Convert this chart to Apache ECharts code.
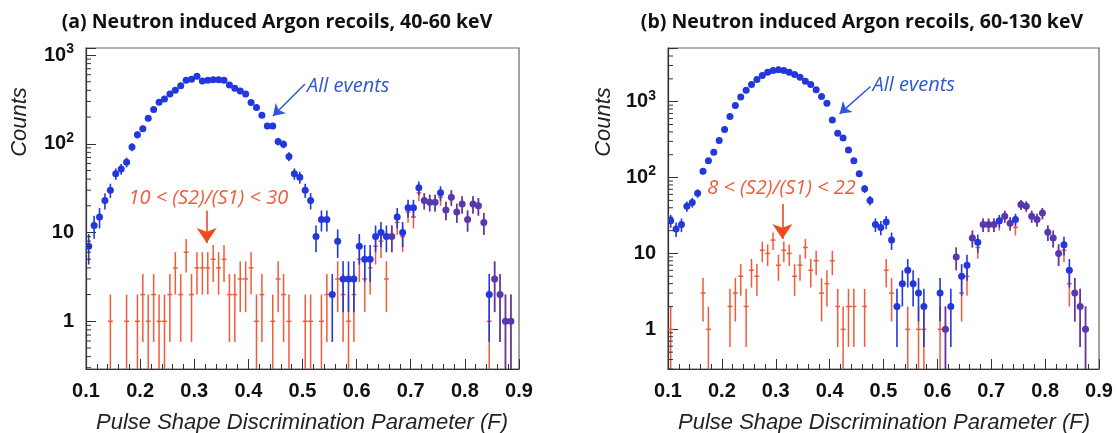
<!DOCTYPE html>
<html><head><meta charset="utf-8">
<script src="https://cdn.jsdelivr.net/npm/echarts@6/dist/echarts.min.js"></script>
<style>html,body{margin:0;padding:0;background:#fff}#c{width:1119px;height:433px}</style>
</head><body><div id="c"></div>
<script>
// Bin centres of the pulse-shape parameter F
const binF = [0.105,0.115,0.125,0.135,0.145,0.155,0.165,0.175,0.185,0.195,
  0.205,0.215,0.225,0.235,0.245,0.255,0.265,0.275,0.285,0.295,
  0.305,0.315,0.325,0.335,0.345,0.355,0.365,0.375,0.385,0.395,
  0.405,0.415,0.425,0.435,0.445,0.455,0.465,0.475,0.485,0.495,
  0.505,0.515,0.525,0.535,0.545,0.555,0.565,0.575,0.585,0.595,
  0.605,0.615,0.625,0.635,0.645,0.655,0.665,0.675,0.685,0.695,
  0.705,0.715,0.725,0.735,0.745,0.755,0.765,0.775,0.785,0.795,
  0.805,0.815,0.825,0.835,0.845,0.855,0.865,0.875,0.885];

// (a) 40-60 keV: all events
const leftAll = [7,12,15,23,30,46,52,62,92,126,
  148,194,243,294,320,363,400,452,520,533,
  578,510,520,527,527,520,460,422,394,363,
  292,256,210,159,159,106,99,72,46,42,
  30,23,9,14,14,2,8,3,3,3,
  7,5,5,9,10,9,9,15,10,19,
  19,32,23,22,22,28,18,25,17,21,
  14,21,20,13,2,3,2,1,1];
// (a) 40-60 keV: 10 < S2/S1 < 30
const leftCut = [0,0,0,0,1,0,0,1,0,1,
  2,1,2,1,1,2,4,2,6,2,
  4,4,4,5,4,5,2,2,3,3,
  4,1,2,0,1,3,2,1,0,0,
  1,1,0,1,2,0,3,2,1,2,
  5,3,4,7,8,3,9,13,9,17,
  15,28,23,22,22,25,18,25,17,21,
  14,21,20,13,1,3,2,1,1];
// (b) 60-130 keV: all events
const rightAll = [27,21,24,42,47,62,121,167,215,307,
  430,638,890,1150,1420,1690,1960,2220,2450,2570,
  2640,2570,2450,2290,2100,1865,1690,1435,1170,955,
  575,383,333,230,167,112,71,50,24,22,
  26,15,2,4,6,4,3,2,0,0,
  3,1,2,9,5,7,16,14,24,24,
  24,27,31,25,28,44,42,31,28,34,
  19,16,10,13,6,3,2,1,0];
// (b) 60-130 keV: 8 < S2/S1 < 22
const rightCut = [1,0,0,0,0,0,3,1,0,0,
  0,2,3,5,2,6,5,11,10,15,
  7,11,10,5,7,12,6,8,3,4,
  8,2,1,2,2,0,2,0,0,0,
  6,3,0,0,1,0,1,1,0,0,
  1,1,0,9,3,5,16,12,24,24,
  24,25,31,25,22,44,42,31,28,34,
  19,16,10,11,4,3,2,1,0];

const xRange = [0.1, 0.9];
const yRangeLeft = [0.29, 1200];
const yRangeRight = [0.3, 5100];
const titles = ['(a) Neutron induced Argon recoils, 40-60 keV', '(b) Neutron induced Argon recoils, 60-130 keV'];
const cutLabels = ['10 < (S2)/(S1) < 30', '8 < (S2)/(S1) < 22'];
const xTitle = 'Pulse Shape Discrimination Parameter (F)';
const yTitle = 'Counts';
const allLabel = 'All events';

const BLUE = '#2238dc', PURPLE = '#5838ae', RED = '#f25a38', REDA = '#f04a22', BLUET = '#2f57d8';

const chart = echarts.init(document.getElementById('c'), null, {renderer: 'canvas'});

function rowsAll(all, cut) {
  const r = [];
  binF.forEach((f, i) => { if (all[i] > 0) r.push([f, all[i], cut[i] === all[i] ? 1 : 0]); });
  return r;
}
function rowsCut(cut) {
  const r = [];
  binF.forEach((f, i) => { if (cut[i] > 0) r.push([f, cut[i]]); });
  return r;
}
function minorVals(range) {
  const v = [];
  for (let k = -2; k <= 4; k++) for (let m = 2; m <= 9; m++) {
    const y = m * Math.pow(10, k);
    if (y > range[0] && y < range[1]) v.push([xRange[0], y]);
  }
  return v;
}

function blueSeries(gi, all, cut, yr) {
  return {
    type: 'custom', xAxisIndex: gi, yAxisIndex: gi, clip: true, silent: true, z: 4,
    data: rowsAll(all, cut), encode: {x: 0, y: 1},
    renderItem: (params, api) => {
      const x = api.value(0), n = api.value(1), mix = api.value(2);
      const s = Math.sqrt(n);
      const c = api.coord([x, n]);
      const lo = api.coord([x, Math.max(n - s, yr[0])]);
      const hi = api.coord([x, n + s]);
      const col = mix ? PURPLE : BLUE;
      return {type: 'group', children: [
        {type: 'line', shape: {x1: c[0], y1: lo[1], x2: c[0], y2: hi[1]}, style: {stroke: col, lineWidth: 1.6}},
        {type: 'circle', shape: {cx: c[0], cy: c[1], r: 3.5}, style: {fill: col}}
      ]};
    }
  };
}
function redSeries(gi, cut, yr) {
  const hw = 0.0045;
  return {
    type: 'custom', xAxisIndex: gi, yAxisIndex: gi, clip: true, silent: true, z: 3,
    data: rowsCut(cut), encode: {x: 0, y: 1},
    renderItem: (params, api) => {
      const x = api.value(0), n = api.value(1);
      const s = Math.sqrt(n);
      const a = api.coord([x - hw, n]), b = api.coord([x + hw, n]);
      const c = api.coord([x, n]);
      const lo = api.coord([x, Math.max(n - s, yr[0])]);
      const hi = api.coord([x, n + s]);
      return {type: 'group', children: [
        {type: 'line', shape: {x1: c[0], y1: lo[1], x2: c[0], y2: hi[1]}, style: {stroke: RED, lineWidth: 1.5}},
        {type: 'line', shape: {x1: a[0], y1: a[1], x2: b[0], y2: b[1]}, style: {stroke: RED, lineWidth: 1.5}}
      ]};
    }
  };
}
function minorSeries(gi, yr) {
  return {
    type: 'custom', xAxisIndex: gi, yAxisIndex: gi, clip: false, silent: true, z: 5,
    data: minorVals(yr), encode: {x: 0, y: 1},
    renderItem: (params, api) => {
      const p = api.coord([api.value(0), api.value(1)]);
      return {type: 'line', shape: {x1: p[0], y1: p[1], x2: p[0] + 5, y2: p[1]}, style: {stroke: '#333', lineWidth: 1}};
    }
  };
}
function arrow(gi, from, to, color, size, width) {
  return {
    type: 'lines', coordinateSystem: 'cartesian2d', xAxisIndex: gi, yAxisIndex: gi, silent: true, z: 6,
    symbol: ['none', 'arrow'], symbolSize: [0, size],
    lineStyle: {color: color, width: width, opacity: 1},
    data: [{coords: [from, to]}]
  };
}

const tickFont = {fontFamily: 'Liberation Sans', fontWeight: 'bold', fontSize: 20, color: '#111'};
function xAx(gi) {
  return {
    type: 'value', gridIndex: gi, min: xRange[0], max: xRange[1], interval: 0.1,
    axisLine: {show: true, lineStyle: {color: '#333', width: 1.2}},
    axisTick: {show: true, inside: true, length: 10, lineStyle: {color: '#333', width: 1}},
    minorTick: {show: true, splitNumber: 5, length: 5, lineStyle: {color: '#333', width: 1}},
    splitLine: {show: false},
    axisLabel: Object.assign({margin: 12, formatter: v => v.toFixed(1)}, tickFont)
  };
}
function yAx(gi, yr) {
  return {
    type: 'log', logBase: 10, gridIndex: gi, min: yr[0], max: yr[1],
    axisLine: {show: true, lineStyle: {color: '#333', width: 1.2}},
    axisTick: {show: true, inside: true, length: 10, lineStyle: {color: '#333', width: 1}},
    splitLine: {show: false}, minorTick: {show: false},
    axisLabel: {
      margin: 12,
      formatter: v => {
        const e = Math.log10(v), k = Math.round(e);
        if (Math.abs(e - k) > 1e-6) return '';
        if (k === 0) return '{b|1}';
        if (k === 1) return '{b|10}';
        return '{b|10}{s|' + k + '}';
      },
      rich: {
        b: Object.assign({lineHeight: 26}, tickFont),
        s: {fontFamily: 'Liberation Sans', fontWeight: 'bold', fontSize: 14, color: '#111', lineHeight: 14, verticalAlign: 'top'}
      }
    }
  };
}

chart.setOption({
  animation: false,
  backgroundColor: '#fff',
  grid: [
    {left: 86, top: 48, width: 433, height: 321, show: true, borderColor: '#666', borderWidth: 1.2, backgroundColor: 'transparent'},
    {left: 668, top: 48, width: 431, height: 321, show: true, borderColor: '#666', borderWidth: 1.2, backgroundColor: 'transparent'}
  ],
  xAxis: [xAx(0), xAx(1)],
  yAxis: [yAx(0, yRangeLeft), yAx(1, yRangeRight)],
  series: [
    minorSeries(0, yRangeLeft), minorSeries(1, yRangeRight),
    redSeries(0, leftCut, yRangeLeft), blueSeries(0, leftAll, leftCut, yRangeLeft),
    redSeries(1, rightCut, yRangeRight), blueSeries(1, rightAll, rightCut, yRangeRight),
    arrow(0, [0.5046, 472], [0.4455, 206], BLUET, 11, 1.5),
    arrow(0, [0.323, 17.7], [0.323, 7.6], REDA, 15, 1.6),
    arrow(1, [0.4759, 1585], [0.4185, 692], BLUET, 11, 1.5),
    arrow(1, [0.3124, 45], [0.3124, 15.5], REDA, 15, 1.6)
  ]
});

// annotation texts anchored in data coordinates
const pA = chart.convertToPixel({gridIndex: 0}, [0.5083, 449]);
const pB = chart.convertToPixel({gridIndex: 1}, [0.4796, 1637]);
const pC = chart.convertToPixel({gridIndex: 0}, [0.326, 24]);
const pD = chart.convertToPixel({gridIndex: 1}, [0.3107, 73]);

function txt(x, y, text, font, fill, align, extra) {
  return Object.assign({type: 'text', x: x, y: y, silent: true, z: 10,
    style: {text: text, font: font, fill: fill, align: align || 'center', verticalAlign: 'middle'}}, extra || {});
}
const titleFont = 'bold 19.5px "Open Sans"';
const axFont = 'italic 22px "Liberation Sans"';
const annFont = 'italic 20px "Open Sans"';
chart.setOption({
  graphic: [
    txt(277, 22, titles[0], titleFont, '#111'),
    txt(862, 22, titles[1], titleFont, '#111'),
    txt(302, 423, xTitle, axFont, '#222'),
    txt(884, 423, xTitle, axFont, '#222'),
    txt(20, 122, yTitle, axFont, '#222', 'center', {rotation: Math.PI / 2}),
    txt(604, 122, yTitle, axFont, '#222', 'center', {rotation: Math.PI / 2}),
    txt(pA[0], pA[1], allLabel, annFont, BLUET, 'left'),
    txt(pB[0], pB[1], allLabel, annFont, BLUET, 'left'),
    txt(pC[0], pC[1], cutLabels[0], annFont, RED),
    txt(pD[0], pD[1], cutLabels[1], annFont, RED)
  ]
});
</script></body></html>
